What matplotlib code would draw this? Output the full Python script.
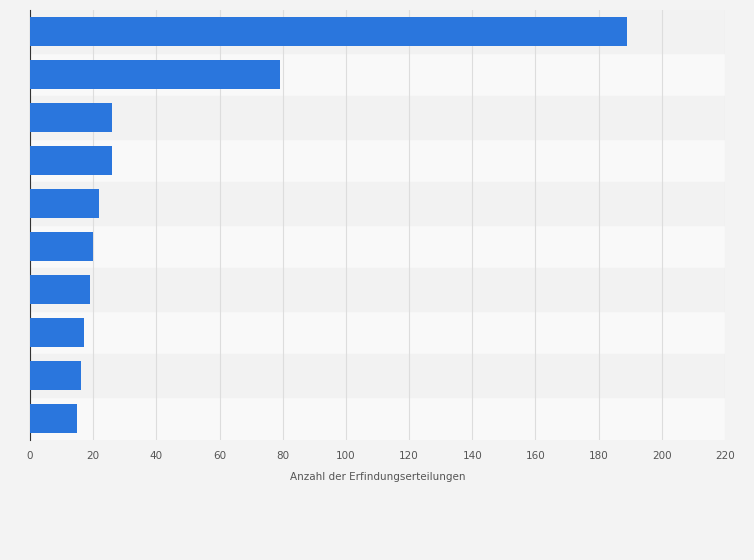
import matplotlib
matplotlib.use("Agg")
import matplotlib.pyplot as plt

categories = ["1", "2", "3", "4", "5", "6", "7", "8", "9", "10"]
values = [189, 79, 26, 26, 22, 20, 19, 17, 16, 15]
xticks = [0, 20, 40, 60, 80, 100, 120, 140, 160, 180, 200, 220]

fig = plt.figure(figsize=(7.54, 5.6), dpi=100, facecolor="#f3f3f3")
ax = fig.add_axes([30/754, 1-440/560, 695/754, 430/560])
ax.set_facecolor("#f9f9f9")
n = len(categories)
for i in range(n):
    if i % 2 == 0:
        ax.axhspan(i-0.5, i+0.5, color="#f2f2f2", zorder=0)
ax.barh(range(n), values, height=0.68, color="#2a76dd", zorder=3)
ax.set_ylim(n-0.5, -0.5)
ax.set_xlim(0, 220)
ax.set_yticks([])
ax.set_xticks(xticks)
ax.set_xticklabels([str(t) for t in xticks], fontsize=7.5, color="#555555")
ax.tick_params(axis="x", length=0, pad=8)
ax.grid(axis="x", color="#dddddd", linewidth=0.8, zorder=1)
for s in ["top", "right", "bottom"]:
    ax.spines[s].set_visible(False)
ax.spines["left"].set_color("#333333")
ax.set_xlabel("Anzahl der Erfindungserteilungen", fontsize=7.5, color="#555555", labelpad=8)
fig.savefig("out.png", dpi=100, facecolor=fig.get_facecolor())
